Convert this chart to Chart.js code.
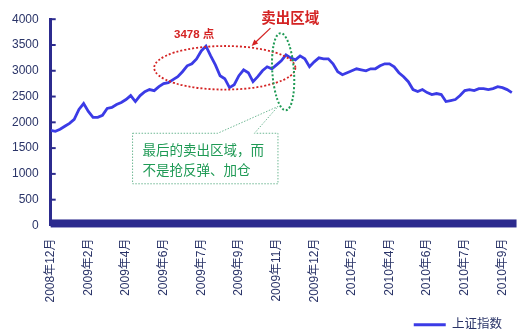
<!DOCTYPE html>
<html>
<head>
<meta charset="utf-8">
<script src="https://cdn.jsdelivr.net/npm/chart.js@4/dist/chart.umd.min.js"></script>
<style>
  html, body { margin: 0; padding: 0; background: #fff; }
  #wrap { width: 530px; height: 332px; }
</style>
</head>
<body>
<div id="wrap"><canvas id="chart"></canvas></div>
<script>
// tick labels, one every 8 points
var tickLabels = ['2008年12月', '2009年2月', '2009年4月', '2009年6月', '2009年7月', '2009年9月', '2009年11月',
                  '2009年12月', '2010年2月', '2010年4月', '2010年6月', '2010年7月', '2010年9月'];
var seriesName = '上证指数';
// index values
var indexValues = [
  1846, 1827, 1865, 1923, 1981, 2058, 2250, 2365, 2212, 2096,
  2096, 2135, 2269, 2288, 2346, 2385, 2442, 2519, 2404, 2519,
  2596, 2635, 2615, 2692, 2750, 2769, 2827, 2885, 2981, 3096,
  3135, 3231, 3385, 3478, 3288, 3115, 2904, 2846, 2673, 2730,
  2904, 3019, 2962, 2788, 2885, 3000, 3077, 3038, 3115, 3192,
  3308, 3250, 3212, 3288, 3231, 3077, 3173, 3250, 3231, 3231,
  3135, 2981, 2923, 2962, 3000, 3038, 3019, 3000, 3038, 3038,
  3096, 3135, 3135, 3077, 2962, 2885, 2788, 2635, 2596, 2635,
  2577, 2538, 2558, 2538, 2404, 2423, 2442, 2519, 2615, 2635,
  2615, 2654, 2654, 2635, 2654, 2692, 2673, 2635, 2577
];
var peakLabel = '3478 点';
var zoneTitle = '卖出区域';
var noteLines = ['最后的卖出区域，而', '不是抢反弹、加仓'];

var navy = '#2c2b8e';
var labelColor = '#2a3468';
var lineColor = '#3b3be6';
var red = '#d42424';
var green = '#1f9a55';

Chart.defaults.font.family = "'Liberation Sans', 'Noto Sans CJK SC', sans-serif";

var overlay = {
  id: 'overlay',
  afterLayout: function(chart) {
    // nudge the legend item left and down
    var lg = chart.legend;
    lg.right -= 18;
    lg.top += 9;
    lg.bottom += 9;
  },
  beforeDatasetsDraw: function(chart) {
    var ctx = chart.ctx, a = chart.chartArea, ys = chart.scales.y;
    ctx.save();
    // floor band
    ctx.fillStyle = navy;
    var y0 = ys.getPixelForValue(0);
    ctx.fillRect(a.left, y0 - 6, a.right - a.left, 8);
    // inward tick marks
    ctx.strokeStyle = navy;
    ctx.lineWidth = 2;
    ys.ticks.forEach(function(t) {
      var y = ys.getPixelForValue(t.value);
      ctx.beginPath();
      ctx.moveTo(a.left, y);
      ctx.lineTo(a.left + 5, y);
      ctx.stroke();
    });
    ctx.restore();
  },
  afterDraw: function(chart) {
    var ctx = chart.ctx, xs = chart.scales.x, ys = chart.scales.y;
    function px(i) { return xs.getPixelForValue(i); }
    function py(v) { return ys.getPixelForValue(v); }
    ctx.save();

    // red dotted ellipse round the top
    var l = px(22), r = px(52), t = py(3480), b = py(2635);
    ctx.setLineDash([2, 2]);
    ctx.lineWidth = 1.8;
    ctx.strokeStyle = red;
    ctx.beginPath();
    ctx.ellipse((l + r) / 2, (t + b) / 2, (r - l) / 2, (b - t) / 2, 0, 0, Math.PI * 2);
    ctx.stroke();

    // green dotted ellipse
    var cx = px(49.4), cy = py(2981);
    var rx = px(51.7) - cx, ry = py(2231) - cy;
    ctx.strokeStyle = green;
    ctx.lineWidth = 2;
    ctx.beginPath();
    ctx.ellipse(cx, cy, rx, ry, -0.07, 0, Math.PI * 2);
    ctx.stroke();

    // callout box
    var bl = px(17.4), br = px(48.3), bt = py(1788), bb = py(808);
    ctx.setLineDash([1.5, 1.5]);
    ctx.lineWidth = 1;
    ctx.strokeStyle = '#6fb894';
    ctx.fillStyle = '#ffffff';
    ctx.beginPath();
    ctx.moveTo(bl, bt);
    ctx.lineTo(px(35.5), bt);
    ctx.lineTo(px(48.3), py(2308));
    ctx.lineTo(px(43.3), bt);
    ctx.lineTo(br, bt);
    ctx.lineTo(br, bb);
    ctx.lineTo(bl, bb);
    ctx.closePath();
    ctx.fill();
    ctx.stroke();
    ctx.setLineDash([]);

    ctx.fillStyle = green;
    ctx.font = "13.5px 'Noto Sans CJK SC', sans-serif";
    ctx.textAlign = 'left';
    ctx.textBaseline = 'middle';
    ctx.fillText(noteLines[0], px(19.5), py(1462));
    ctx.fillText(noteLines[1], px(19.5), py(1077));

    // red labels
    ctx.fillStyle = red;
    ctx.textAlign = 'center';
    ctx.font = "bold 11.5px 'Liberation Sans', 'Noto Sans CJK SC', sans-serif";
    ctx.fillText(peakLabel, px(30.5), py(3692));
    ctx.font = "bold 14.5px 'Noto Sans CJK SC', sans-serif";
    ctx.fillText(zoneTitle, px(50.9), py(4040));

    // arrow
    var x1 = px(46.7), y1 = py(3827), x2 = px(42.7), y2 = py(3481);
    var ang = Math.atan2(y2 - y1, x2 - x1);
    ctx.strokeStyle = red;
    ctx.lineWidth = 1.3;
    ctx.beginPath();
    ctx.moveTo(x1, y1);
    ctx.lineTo(x2 - 4 * Math.cos(ang), y2 - 4 * Math.sin(ang));
    ctx.stroke();
    ctx.beginPath();
    ctx.moveTo(x2, y2);
    ctx.lineTo(x2 - 7 * Math.cos(ang - 0.4), y2 - 7 * Math.sin(ang - 0.4));
    ctx.lineTo(x2 - 7 * Math.cos(ang + 0.4), y2 - 7 * Math.sin(ang + 0.4));
    ctx.closePath();
    ctx.fill();

    ctx.restore();
  }
};

var chart = new Chart(document.getElementById('chart'), {
  type: 'line',
  data: {
    datasets: [{
      label: seriesName,
      data: indexValues.map(function(v, i) { return {x: i, y: v}; }),
      borderColor: lineColor,
      backgroundColor: lineColor,
      borderWidth: 2.8,
      pointRadius: 0,
      tension: 0
    }]
  },
  options: {
    responsive: true,
    maintainAspectRatio: false,
    animation: false,
    layout: { padding: { top: 16, right: 6, bottom: 0, left: 0 } },
    plugins: {
      tooltip: { enabled: false },
      legend: {
        position: 'bottom',
        align: 'end',
        labels: {
          usePointStyle: true,
          pointStyle: 'line',
          pointStyleWidth: 32,
          color: labelColor,
          font: { size: 12.5 },
          padding: 4
        }
      }
    },
    scales: {
      x: {
        type: 'linear',
        min: 0,
        max: 99,
        grid: { display: false, drawTicks: false },
        border: { display: false },
        afterFit: function(s) { s.height -= 10; },
        ticks: {
          stepSize: 8,
          includeBounds: false,
          autoSkip: false,
          maxRotation: 90,
          minRotation: 90,
          padding: 13,
          color: labelColor,
          font: { size: 12 },
          callback: function(v) { return tickLabels[v / 8] || ''; }
        }
      },
      y: {
        min: 0,
        max: 4000,
        grid: { display: false, drawTicks: false },
        border: { display: true, color: navy, width: 3 },
        ticks: {
          stepSize: 500,
          padding: 12,
          color: labelColor,
          font: { size: 12 },
          callback: function(v) { return String(v); }
        }
      }
    }
  },
  plugins: [overlay]
});
</script>
</body>
</html>
